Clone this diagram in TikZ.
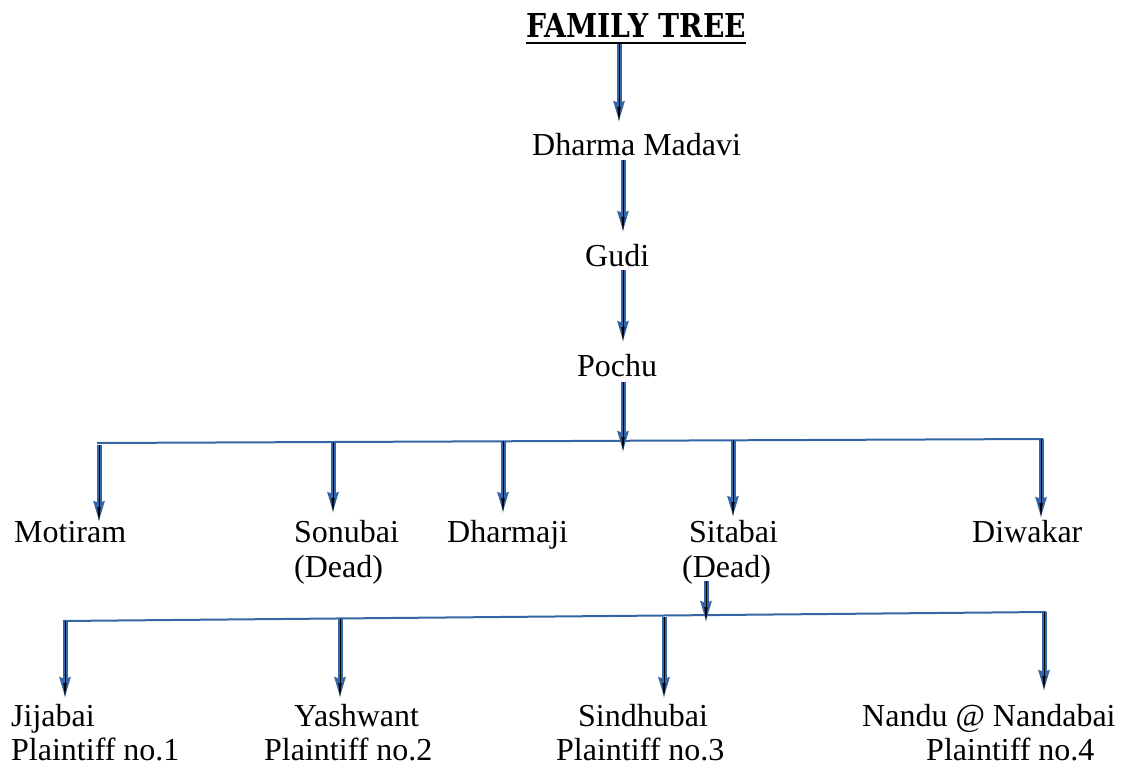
\documentclass[tikz,border=0pt]{standalone}
\usepackage{fontspec}
\setmainfont{Liberation Serif}
\newfontfamily\titlefont{DejaVu Serif}
\usetikzlibrary{arrows.meta}
\definecolor{lineblue}{HTML}{3465A4}
\tikzset{
  arr/.style={draw=lineblue, line width=5pt, -{Stealth[length=20pt,width=10pt,inset=1pt]},
    postaction={draw=black, line width=0.8pt, -{Stealth[length=15pt,width=3pt,inset=0pt]}}},
  bar/.style={draw=lineblue, line width=2pt},
  lbl/.style={font=\fontsize{32}{37}\selectfont, inner sep=0pt, anchor=base west},
}
\begin{document}
\begin{tikzpicture}[x=1pt,y=-1pt]
\useasboundingbox (0,0) rectangle (1122,765);
% title
\node[inner sep=0pt, anchor=base west] (title) at (526,38) {\resizebox{220pt}{24pt}{\titlefont\bfseries FAMILY TREE}};
\draw[line width=2pt] (526,43) coordinate (ulA) -- (746,43) coordinate (ulB);
% chain
\node[lbl] (dharma) at (532,156) {Dharma Madavi};
\node[lbl] (gudi) at (585,266) {Gudi};
\node[lbl] (pochu) at (577,376) {Pochu};
\coordinate (a1s) at (619,44); \coordinate (a1e) at (619,122);
\coordinate (a2s) at (623,160); \coordinate (a2e) at (623,232);
\coordinate (a3s) at (623,270); \coordinate (a3e) at (623,342);
\coordinate (a4s) at (623,382); \coordinate (a4e) at (623,452);
\draw[arr] (a1s) -- (a1e);
\draw[arr] (a2s) -- (a2e);
\draw[arr] (a3s) -- (a3e);
% first bar
\coordinate (bar1L) at (97,443); \coordinate (bar1R) at (1043,439);
\draw[bar] (bar1L) -- (bar1R);
\draw[arr] (a4s) -- (a4e);
% children
\node[lbl] (motiram) at (14,542) {Motiram};
\node[lbl] (sonubai) at (294,542) {Sonubai};
\node[lbl] (sonudead) at (294,577) {(Dead)};
\node[lbl] (dharmaji) at (447,542) {Dharmaji};
\node[lbl] (sitabai) at (689,542) {Sitabai};
\node[lbl] (sitadead) at (682,577) {(Dead)};
\node[lbl] (diwakar) at (972,542) {Diwakar};
\coordinate (c1s) at (99,445); \coordinate (c1e) at (99,522);
\coordinate (c2s) at (333,442); \coordinate (c2e) at (333,513);
\coordinate (c3s) at (503,441); \coordinate (c3e) at (503,513);
\coordinate (c4s) at (733,440); \coordinate (c4e) at (733,517);
\coordinate (c5s) at (1041,439); \coordinate (c5e) at (1041,518);
\draw[arr] (c1s) -- (c1e);
\draw[arr] (c2s) -- (c2e);
\draw[arr] (c3s) -- (c3e);
\draw[arr] (c4s) -- (c4e);
\draw[arr] (c5s) -- (c5e);
% second bar
\coordinate (bar2L) at (63,621); \coordinate (bar2R) at (1046,612);
\draw[bar] (bar2L) -- (bar2R);
\coordinate (s1s) at (706,581); \coordinate (s1e) at (706,622);
\draw[arr] (s1s) -- (s1e);
% grandchildren
\node[lbl] (jijabai) at (11,726) {Jijabai};
\node[lbl] (jijap) at (11,760) {Plaintiff no.1};
\node[lbl] (yashwant) at (294,726) {Yashwant};
\node[lbl] (yashp) at (264,760) {Plaintiff no.2};
\node[lbl] (sindhubai) at (578,726) {Sindhubai};
\node[lbl] (sindp) at (556,760) {Plaintiff no.3};
\node[lbl] (nandu) at (862,726) {Nandu @ Nandabai};
\node[lbl] (nandp) at (926,760) {Plaintiff no.4};
\coordinate (g1s) at (65,621); \coordinate (g1e) at (65,698);
\coordinate (g2s) at (340,619); \coordinate (g2e) at (340,698);
\coordinate (g3s) at (664,617); \coordinate (g3e) at (664,698);
\coordinate (g4s) at (1044,612); \coordinate (g4e) at (1044,691);
\draw[arr] (g1s) -- (g1e);
\draw[arr] (g2s) -- (g2e);
\draw[arr] (g3s) -- (g3e);
\draw[arr] (g4s) -- (g4e);
\end{tikzpicture}
\end{document}
